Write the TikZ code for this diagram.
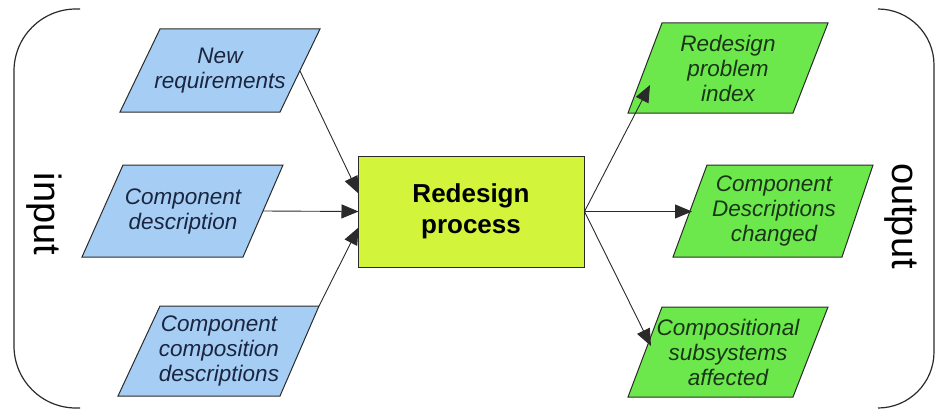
\documentclass[tikz,border=0pt]{standalone}
\usepackage{fontspec}
\setmainfont{Liberation Sans}
\usetikzlibrary{arrows.meta,calc}

\definecolor{inblue}{HTML}{A6CEF4}
\definecolor{outgreen}{HTML}{6CE84C}
\definecolor{procyellow}{HTML}{D2F53C}
\definecolor{bluetxt}{HTML}{1A2540}
\definecolor{greentxt}{HTML}{1A3518}
\definecolor{edge}{HTML}{2A2A2A}

\tikzset{
  inshape/.style={fill=inblue, draw=edge, line width=1pt, line join=miter},
  outshape/.style={fill=outgreen, draw=edge, line width=1pt, line join=miter},
  slanttext/.style={align=center, inner sep=0pt,
    font=\fontsize{22.5}{25}\selectfont\itshape},
  intext/.style={slanttext, text=bluetxt},
  outtext/.style={slanttext, text=greentxt},
  procbox/.style={fill=procyellow, draw=edge, line width=1pt,
    minimum width=226pt, minimum height=111pt, inner sep=0pt,
    align=center, font=\fontsize{26}{31}\selectfont\bfseries},
  flow/.style={draw=edge, line width=0.9pt,
    -{Triangle[length=17pt,width=14pt]}},
  bracket/.style={draw=edge, line width=1.2pt},
  sidelabel/.style={rotate=-90, font=\fontsize{38}{38}\selectfont, text=black}
}

\begin{document}
\begin{tikzpicture}[x=1pt,y=-1pt]
  \useasboundingbox (0,0) rectangle (935,412);

  % side brackets
  \draw[bracket, rounded corners=62pt] (80,9) -- (14,9) -- (14,408) -- (80,408);
  \draw[bracket, rounded corners=56pt] (878,9) -- (934,9) -- (934,408) -- (878,408);
  \node[sidelabel] (inlabel) at (44,214) {input};
  \node[sidelabel] (outlabel) at (901,216) {output};

  % input parallelograms
  \path[inshape] (160,29) -- (320,29) -- (280,112) -- (120,112) -- cycle;
  \node[intext] (newreq) at (220,71) {New\\requirements};
  \coordinate (newreq-out) at (300,71);

  \path[inshape] (123,165) -- (283,165) -- (243,257) -- (82,257) -- cycle;
  \node[intext] (compdesc) at (183,211) {Component\\description};
  \coordinate (compdesc-out) at (263,211);

  \path[inshape] (160,306) -- (319,306) -- (280,396) -- (118,396) -- cycle;
  \node[intext] (compcomp) at (219,351) {Component\\composition\\descriptions};
  \coordinate (compcomp-out) at (319,306);

  % process
  \node[procbox] (proc) at (471,211.5) {Redesign\\process};

  % output parallelograms
  \path[outshape] (662,23) -- (828,23) -- (793,113) -- (628,113) -- cycle;
  \node[outtext] (rpi) at (728,68) {Redesign\\problem\\index};
  \coordinate (rpi-in) at (650,85);

  \path[outshape] (707,165) -- (873,165) -- (842,257) -- (673,257) -- cycle;
  \node[outtext] (cdc) at (774,211) {Component\\Descriptions\\changed};
  \coordinate (cdc-in) at (692,211.5);

  \path[outshape] (662,307) -- (828,307) -- (793,397) -- (628,397) -- cycle;
  \node[outtext] (csa) at (728,352) {Compositional\\subsystems\\affected};
  \coordinate (csa-in) at (651,346);

  % flows into the process
  \draw[flow] (newreq-out) -- ($(proc.west)+(1,-18)$);
  \draw[flow] (compdesc-out) -- ($(proc.west)+(1,0)$);
  \draw[flow] (compcomp-out) -- ($(proc.west)+(1,16)$);

  % flows out of the process
  \draw[flow] (proc.east) -- (rpi-in);
  \draw[flow] (proc.east) -- (cdc-in);
  \draw[flow] (proc.east) -- (csa-in);
\end{tikzpicture}
\end{document}
